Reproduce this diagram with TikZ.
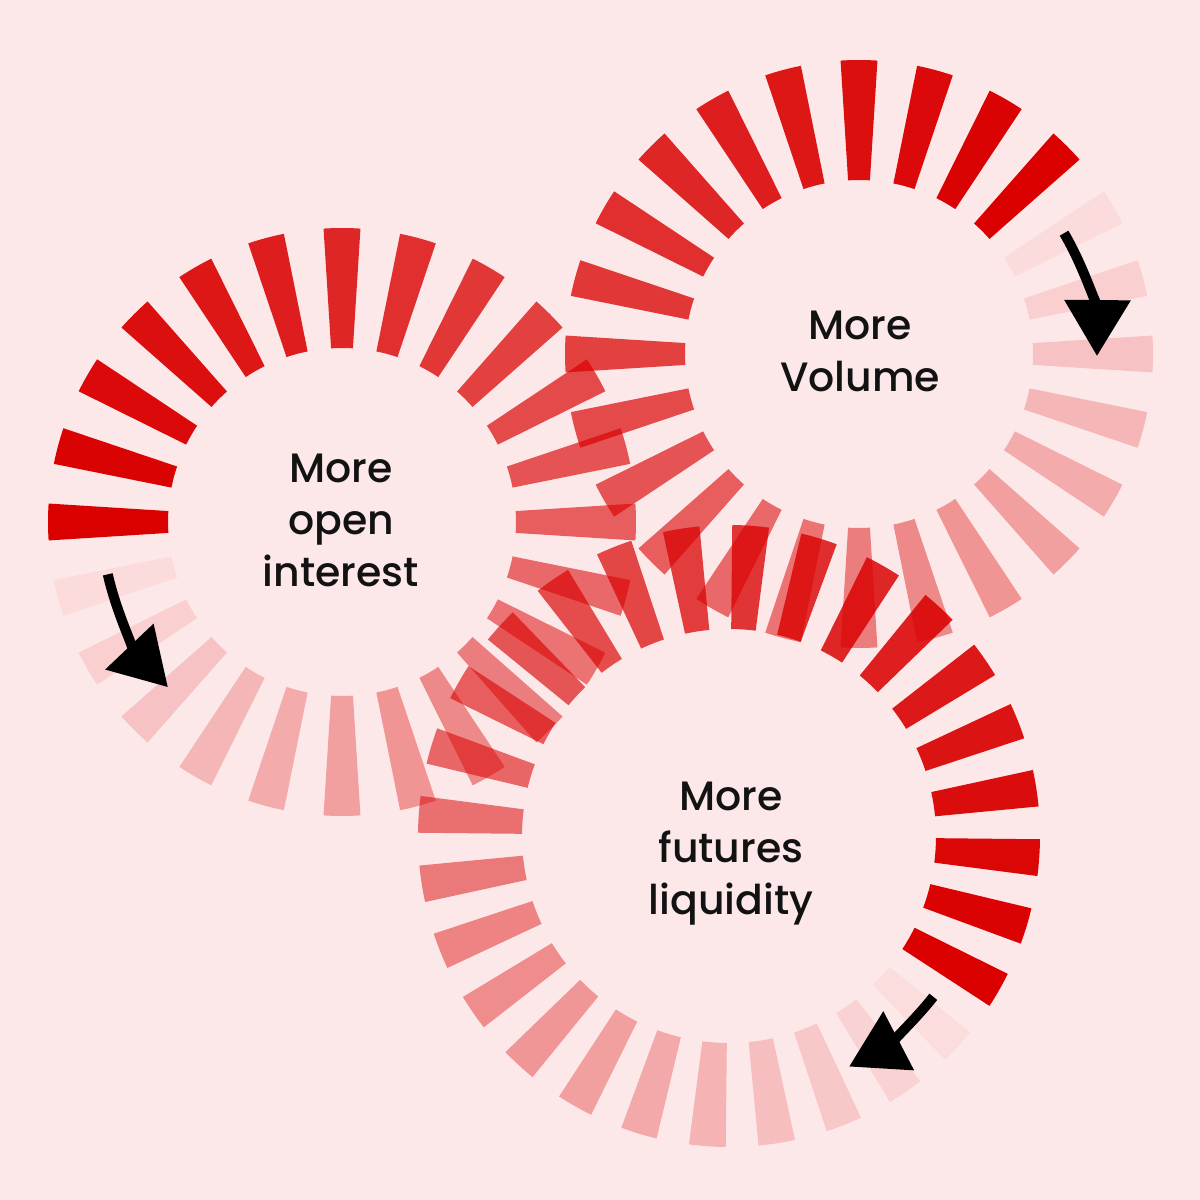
\documentclass[tikz,border=0pt]{standalone}
\usepackage{fontspec}
\setmainfont{Poppins}
\newfontfamily\labelfont{Poppins Medium}
\usetikzlibrary{arrows.meta}
\definecolor{bgpink}{HTML}{FDE8E9}
\definecolor{dashred}{HTML}{DA0000}
\definecolor{inkblack}{HTML}{121212}
\begin{document}
\begin{tikzpicture}[x=0.5pt,y=0.5pt,
  wedge/.style={fill=dashred},
  label/.style={inner sep=0pt, anchor=north, align=center, text=inkblack,
    font=\labelfont\fontsize{20.5}{26}\selectfont},
  cyclearrow/.style={draw=black, line width=5pt,
    -{Triangle[length=28pt,width=32pt]}}]
\useasboundingbox (0,0) rectangle (1200,1200);
\fill[bgpink] (0,0) rectangle (1200,1200);
\coordinate (c1) at (342,678);
\coordinate (c2) at (859,846);
\coordinate (c3) at (729,364);
% circle 1 : 24 wedges, head at 180 deg
\foreach \k in {0,...,23}{
  \pgfmathsetmacro\a{180-15*\k}
  \pgfmathsetmacro\o{1-(\k/24)^1.3}
  \fill[wedge, fill opacity=\o, shift={(342,678)}]
    (\a-3.6:174) arc[start angle=\a-3.6, end angle=\a+3.6, radius=174]
    -- (\a+3.6:294) arc[start angle=\a+3.6, end angle=\a-3.6, radius=294] -- cycle;
}
% circle 2 : 24 wedges, head at 45 deg
\foreach \k in {0,...,23}{
  \pgfmathsetmacro\a{45+15*\k}
  \pgfmathsetmacro\o{1-(\k/24)^1.3}
  \fill[wedge, fill opacity=\o, shift={(859,846)}]
    (\a-3.6:174) arc[start angle=\a-3.6, end angle=\a+3.6, radius=174]
    -- (\a+3.6:294) arc[start angle=\a+3.6, end angle=\a-3.6, radius=294] -- cycle;
}
% circle 3 : 28 wedges, head at -29.7 deg
\foreach \k in {0,...,27}{
  \pgfmathsetmacro\a{-29.714+12.857*\k}
  \pgfmathsetmacro\o{1-(\k/28)^1.3}
  \fill[wedge, fill opacity=\o, shift={(729,364)}]
    (\a-3.4:207) arc[start angle=\a-3.4, end angle=\a+3.4, radius=207]
    -- (\a+3.4:311) arc[start angle=\a+3.4, end angle=\a-3.4, radius=311] -- cycle;
}
% labels
\node[label] (t1) at (341,746) {More\\open\\interest};
\node[label] (t2) at (860,889) {More\\Volume};
\node[label] (t3) at (731,418) {More\\futures\\liquidity};
% arrows
\draw[cyclearrow] ([shift={(192.6:240)}]c1) arc[start angle=192.6, end angle=223.5, radius=240];
\draw[cyclearrow] ([shift={(30.5:238)}]c2) arc[start angle=30.5, end angle=-0.5, radius=238];
\draw[cyclearrow] ([shift={(-38.2:260)}]c3) arc[start angle=-38.2, end angle=-62.5, radius=260];
\end{tikzpicture}
\end{document}
